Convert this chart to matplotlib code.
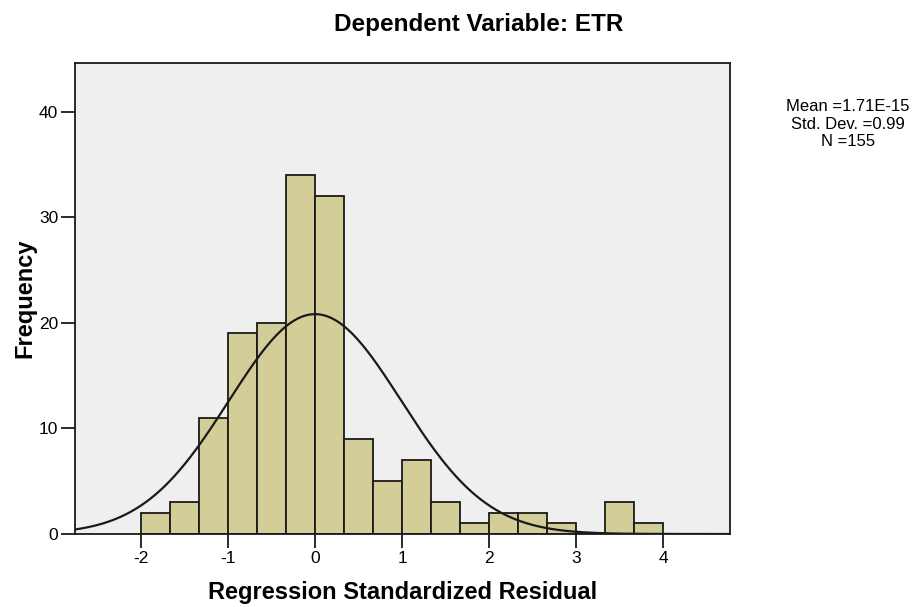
import numpy as np
import matplotlib
matplotlib.use('Agg')
import matplotlib.pyplot as plt

plt.rcParams['font.family'] = ['Liberation Sans', 'DejaVu Sans']
plt.rcParams['axes.unicode_minus'] = False

# histogram of residuals, bins of width 1/3 starting at -2
bin_start = -2.0
bin_width = 1.0 / 3.0
counts = [2, 3, 11, 19, 20, 34, 32, 9, 5, 7, 3, 1, 2, 2, 1, 0, 3, 1]
mean_val = 1.71e-15
std_val = 0.99
n_val = 155
x_ticks = [-2, -1, 0, 1, 2, 3, 4]
y_ticks = [0, 10, 20, 30, 40]

fig = plt.figure(figsize=(9.16, 6.07), dpi=100)
ax = fig.add_axes([75 / 916, 1 - 534 / 607, (730 - 75) / 916, (534 - 63) / 607])
ax.set_facecolor('#efefef')

edges = bin_start + bin_width * np.arange(len(counts))
ax.bar(edges, counts, width=bin_width, align='edge', color='#d3ce97',
       edgecolor='#1a1a1a', linewidth=1.3, zorder=2)

xmin, xmax = -2.76, 4.77
xs = np.linspace(xmin, xmax, 400)
pdf = n_val * bin_width / (std_val * np.sqrt(2 * np.pi)) * np.exp(-0.5 * ((xs - mean_val) / std_val) ** 2)
ax.plot(xs, pdf, color='#1a1a1a', linewidth=1.6, zorder=3)

ax.set_xlim(xmin, xmax)
ax.set_ylim(0, 44.6)
ax.set_xticks(x_ticks)
ax.set_yticks(y_ticks)
ax.tick_params(length=10, width=1.3, labelsize=12.5, color='#1a1a1a', pad=2)
for s in ax.spines.values():
    s.set_linewidth(1.3)
    s.set_color('#1a1a1a')

ax.set_xlabel('Regression Standardized Residual', fontsize=17, fontweight='bold')
ax.xaxis.set_label_coords(0.5, -(593 - 534) / 471, transform=ax.transAxes)
ax.set_ylabel('Frequency', fontsize=17, fontweight='bold')
ax.yaxis.set_label_coords((25 - 75) / 655, 0.5, transform=ax.transAxes)
ax.xaxis.label.set_va('center')
ax.yaxis.label.set_va('center')
fig.text(479 / 916, 1 - 25 / 607, 'Dependent Variable: ETR', fontsize=17.5,
         fontweight='bold', ha='center', va='center')
fig.text(848 / 916, 1 - 124 / 607, 'Mean =1.71E-15\nStd. Dev. =0.99\nN =155',
         fontsize=12, ha='center', va='center', linespacing=1.2)

fig.savefig('out.png', dpi=100)
